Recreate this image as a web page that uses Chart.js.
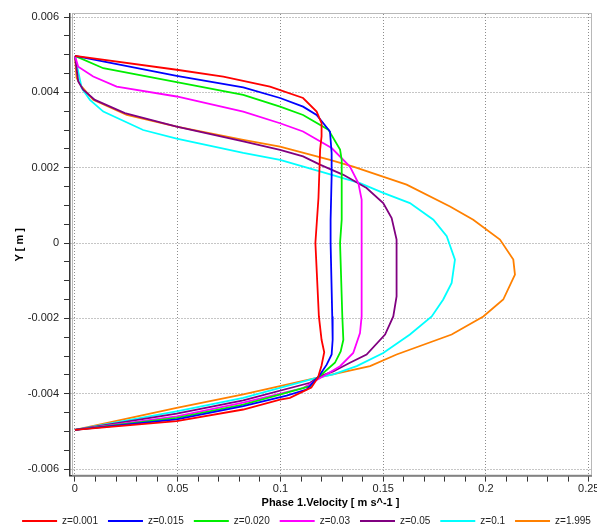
<!DOCTYPE html>
<html>
<head>
<meta charset="utf-8">
<script src="https://cdn.jsdelivr.net/npm/chart.js@4.4.0/dist/chart.umd.min.js"></script>
<style>
  body { margin: 0; background: #fff; }
</style>
</head>
<body>
<canvas id="myChart" width="597" height="526"></canvas>
<script>
// legend names
var names = ["z=0.001", "z=0.015", "z=0.020", "z=0.03", "z=0.05", "z=0.1", "z=1.995"];

// velocity (x) and Y position (y), one pair per curve
var redX = [0, 0.0495, 0.0722, 0.0949, 0.111, 0.1176, 0.12, 0.12, 0.1193, 0.1185, 0.117, 0.1187, 0.12, 0.1213, 0.12, 0.1188, 0.1183, 0.115, 0.1046, 0.0998, 0.0819, 0.0495, 0];
var redY = [0.00497, 0.0046, 0.00442, 0.00415, 0.00385, 0.00349, 0.00318, 0.00283, 0.00248, 0.0012, 0, -0.00195, -0.00257, -0.0029, -0.00325, -0.00347, -0.00357, -0.00384, -0.00411, -0.00416, -0.00442, -0.00473, -0.00496];

var blueX = [0, 0.0495, 0.0819, 0.0998, 0.111, 0.1176, 0.1241, 0.1249, 0.1249, 0.1244, 0.1244, 0.1252, 0.1254, 0.1249, 0.1225, 0.1192, 0.1182, 0.1127, 0.103, 0.0819, 0.0495, 0];
var blueY = [0.00497, 0.00444, 0.00413, 0.00385, 0.00362, 0.0034, 0.00296, 0.00239, 0.00177, 0.00062, 0, -0.00195, -0.00257, -0.00296, -0.00323, -0.0035, -0.00357, -0.00389, -0.00405, -0.00433, -0.00468, -0.00496];

var greenX = [0, 0.0138, 0.0495, 0.0819, 0.0998, 0.111, 0.1233, 0.129, 0.1298, 0.1298, 0.129, 0.1301, 0.1306, 0.1293, 0.1265, 0.1208, 0.1182, 0.1144, 0.1014, 0.0819, 0.0495, 0];
var greenY = [0.00497, 0.00464, 0.00427, 0.00393, 0.00362, 0.0034, 0.00301, 0.00248, 0.00221, 0.00062, 0, -0.00195, -0.00257, -0.00288, -0.00318, -0.00345, -0.00357, -0.0038, -0.004, -0.00429, -0.00464, -0.00496];

var magX = [0, 0.0016, 0.0089, 0.0203, 0.0495, 0.0819, 0.0998, 0.111, 0.1249, 0.1338, 0.1379, 0.1395, 0.1395, 0.1395, 0.1387, 0.1354, 0.129, 0.1208, 0.111, 0.0819, 0.0495, 0];
var magY = [0.00497, 0.00468, 0.00442, 0.00415, 0.00389, 0.00349, 0.00318, 0.00296, 0.00252, 0.00203, 0.00159, 0.00115, 0, -0.00195, -0.00239, -0.00292, -0.00327, -0.00354, -0.00385, -0.00424, -0.0046, -0.00496];

var purX = [0, 0.0016, 0.004, 0.0097, 0.0243, 0.0495, 0.0819, 0.0998, 0.111, 0.1192, 0.1306, 0.1419, 0.15, 0.1541, 0.1565, 0.1565, 0.1549, 0.1509, 0.1419, 0.1338, 0.1257, 0.1192, 0.1144, 0.0819, 0.0495, 0];
var purY = [0.00497, 0.00429, 0.00407, 0.0038, 0.00345, 0.00309, 0.0027, 0.00247, 0.0023, 0.00208, 0.00181, 0.00146, 0.00106, 0.00066, 0.00009, -0.00142, -0.00195, -0.00243, -0.00296, -0.00318, -0.00341, -0.00354, -0.00371, -0.00418, -0.00453, -0.00496];

var cyanX = [0, 0.0033, 0.0073, 0.0138, 0.0332, 0.0495, 0.0819, 0.0998, 0.1192, 0.1387, 0.15, 0.163, 0.1744, 0.1809, 0.1849, 0.1833, 0.1792, 0.1736, 0.163, 0.15, 0.1371, 0.1257, 0.1176, 0.0819, 0.0495, 0];
var cyanY = [0.00497, 0.00411, 0.0038, 0.00349, 0.003, 0.00277, 0.00239, 0.00221, 0.0019, 0.00159, 0.00133, 0.00106, 0.00062, 0.00018, -0.00044, -0.00106, -0.0015, -0.00195, -0.00243, -0.00292, -0.00327, -0.00349, -0.00358, -0.00411, -0.00447, -0.00496];

var orangeX = [0, 0.0008, 0.0033, 0.0089, 0.0252, 0.0495, 0.0819, 0.0998, 0.1241, 0.1354, 0.1614, 0.1825, 0.1938, 0.2068, 0.2133, 0.2141, 0.2084, 0.1987, 0.1833, 0.1565, 0.1436, 0.1176, 0.0819, 0.0495, 0];
var orangeY = [0.00497, 0.00438, 0.00415, 0.0038, 0.0034, 0.00309, 0.00274, 0.00256, 0.00221, 0.00203, 0.00155, 0.00097, 0.00062, 0.00009, -0.00044, -0.00084, -0.0015, -0.00195, -0.00243, -0.00296, -0.00327, -0.00358, -0.00402, -0.00438, -0.00496];

var colors = ["#ff0000", "#0000ff", "#00ee00", "#ff00ff", "#800080", "#00ffff", "#ff8000"];
var allX = [redX, blueX, greenX, magX, purX, cyanX, orangeX];
var allY = [redY, blueY, greenY, magY, purY, cyanY, orangeY];

var fontName = "'Liberation Sans', Arial, sans-serif";

function pts(xs, ys) {
  var out = [];
  for (var i = 0; i < xs.length; i++) {
    out.push({ x: xs[i], y: ys[i] });
  }
  return out;
}

var datasets = [];
for (var i = 0; i < names.length; i++) {
  datasets.push({
    label: names[i],
    data: pts(allX[i], allY[i]),
    borderColor: colors[i],
    backgroundColor: colors[i],
    borderWidth: 1.8,
    pointRadius: 0,
    showLine: true,
    tension: 0
  });
}

// light frame round the plot area
var frame = {
  id: "frame",
  beforeDatasetsDraw: function (chart) {
    var a = chart.chartArea;
    var ctx = chart.ctx;
    ctx.save();
    ctx.strokeStyle = "#b8b8b8";
    ctx.lineWidth = 1;
    ctx.strokeRect(a.left + 2.5, a.top - 0.5, a.right - a.left - 2, a.bottom - a.top);
    ctx.restore();
  }
};

// legend keeps a thin slot in the layout, but its box (and clip) reaches the bottom edge
var legendShift = {
  id: "legendShift",
  afterLayout: function (chart) {
    chart.legend.top -= 6;
    chart.legend.bottom = chart.height;
    chart.legend.left += 11;
    chart.legend.right += 11;
  }
};

function isMajorX(v) {
  return Math.round(v * 100) % 5 == 0;
}
function isMajorY(v) {
  return Math.round(v * 2000) % 4 == 0;
}

new Chart("myChart", {
  type: "scatter",
  data: { datasets: datasets },
  plugins: [frame, legendShift],
  options: {
    responsive: false,
    animation: false,
    layout: { padding: { top: 14, right: 6, left: 0, bottom: 0 } },
    plugins: {
      tooltip: { enabled: false },
      legend: {
        position: "bottom",
        maxHeight: 14,
        labels: {
          boxWidth: 35,
          boxHeight: 0,
          padding: 10,
          color: "#222",
          font: { family: fontName, size: 10 }
        }
      }
    },
    scales: {
      x: {
        type: "linear",
        min: -0.0024,
        max: 0.2511,
        afterBuildTicks: function (axis) {
          var t = [];
          for (var i = 0; i <= 25; i++) t.push({ value: i / 100 });
          axis.ticks = t;
        },
        afterFit: function (axis) {
          axis.paddingLeft = 0;
          axis.paddingRight = 0;
        },
        ticks: {
          autoSkip: false,
          maxRotation: 0,
          padding: 1,
          color: "#222",
          font: { family: fontName, size: 11 },
          callback: function (v) {
            var k = Math.round(v * 100);
            return isMajorX(v) ? String(k / 100) : "";
          }
        },
        grid: {
          color: function (c) {
            return c.tick && isMajorX(c.tick.value) ? "#8c8c8c" : "rgba(0,0,0,0)";
          },
          tickColor: "#333",
          tickLength: 6,
          tickWidth: 1,
          lineWidth: 1
        },
        border: { color: "#333", width: 1.5, dash: [1, 2] },
        title: {
          display: true,
          text: "Phase 1.Velocity [ m s^-1 ]",
          color: "#000",
          font: { family: fontName, size: 11, weight: "bold" },
          padding: { top: 0, bottom: 2 }
        }
      },
      y: {
        type: "linear",
        min: -0.006175,
        max: 0.00608,
        afterBuildTicks: function (axis) {
          var t = [];
          for (var i = -12; i <= 12; i++) t.push({ value: i / 2000 });
          axis.ticks = t;
        },
        afterFit: function (axis) {
          axis.width = 70;
        },
        ticks: {
          autoSkip: false,
          padding: 5,
          color: "#222",
          font: { family: fontName, size: 11 },
          callback: function (v) {
            var k = Math.round(v * 2000);
            return isMajorY(v) ? String(k / 2000) : "";
          }
        },
        grid: {
          color: function (c) {
            return c.tick && isMajorY(c.tick.value) ? "#8c8c8c" : "rgba(0,0,0,0)";
          },
          tickColor: "#333",
          tickLength: 6,
          tickWidth: 1,
          lineWidth: 1
        },
        border: { color: "#333", width: 1.5, dash: [1, 2] },
        title: {
          display: true,
          text: "Y [ m ]",
          color: "#000",
          font: { family: fontName, size: 11, weight: "bold" },
          padding: { top: 13, bottom: 0 }
        }
      }
    }
  }
});
</script>
</body>
</html>
